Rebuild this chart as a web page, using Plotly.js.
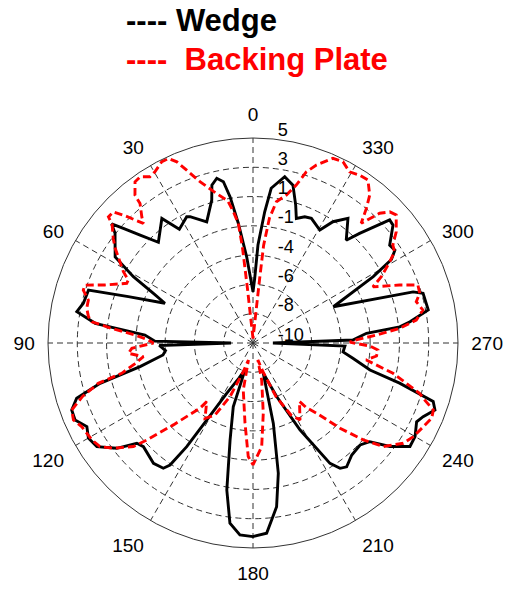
<!DOCTYPE html>
<html>
<head>
<meta charset="utf-8">
<script src="https://cdn.plot.ly/plotly-3.0.1.min.js"></script>
<style>html,body{margin:0;padding:0;background:#fff;}#chart{width:522px;height:590px;}</style>
</head>
<body>
<div id="chart"></div>
<script>
// Angular tick labels (degrees)
const angleTicks = [0, 30, 60, 90, 120, 150, 180, 210, 240, 270, 300, 330];
const angleLabels = ['0', '30', '60', '90', '120', '150', '180', '210', '240', '270', '300', '330'];
// Radial rings (equally spaced) and their printed labels
const ringPos = [0, 1, 2, 3, 4, 5, 6, 7];
const ringLabels = ['-10', '-8', '-6', '-4', '-1', '1', '3', '5'];

// Wedge (black solid) — angle in degrees, radius in ring units
const wedgeTheta = [0, 4.2, 7.0, 8.9, 10.4, 12.4, 14.6, 16.1, 20.9, 26.5, 27.7, 32.9, 36.2, 43.2, 46.3, 48.5, 49.9, 51.5, 58.0, 61.0, 63.5, 65.7, 69.6, 72.2, 76.8, 79.9, 82.9, 85.8, 88.9, 90, 91.5, 95, 97.6, 101.8, 104.8, 107.4, 110.3, 113.4, 116.7, 120, 123.6, 127.7, 130.8, 133.4, 140.4, 144.4, 145.8, 147.4, 149, 152.4, 158, 163.5, 162.8, 166.7, 169.9, 172.7, 176.1, 180,
  184.1, 188.2, 191, 194.2, 198.8, 203.8, 208.4, 212.6, 214.8, 217.1, 221.4, 226.4, 229.8, 232.9, 236.6, 240, 244.3, 246.6, 249.8, 252, 254.7, 257, 261.3, 264.3, 268.1, 270, 271.7, 274.9, 276.3, 277.7, 280.7, 286.3, 287.7, 294.3, 298.9, 301.1, 303.2, 305.6, 310.1, 312, 315.8, 317.8, 322.7, 326.6, 329.4, 334.9, 337.7, 340.8, 342.8, 345.8, 349.2, 353.3, 354.9, 357.1, 358.5, 360];
const wedgeR = [1.75, 2.95, 4.12, 5.05, 5.6, 5.76, 5.57, 5.08, 4.43, 4.82, 4.87, 4.63, 5.27, 4.72, 5.33, 5.91, 6.31, 6.02, 5.55, 4.67, 3.8, 3.3, 4.54, 5.9, 5.95, 6.11, 5.43, 3.7, 3.35, 0.75, 3.2, 3.0, 3.1, 3.94, 5.4, 6.31, 6.6, 6.62, 6.35, 6.49, 6.4, 5.88, 5.24, 5.15, 5.33, 5.26, 5.04, 4.2, 3.07, 1.94, 1.3, 0.95, 2.28, 3.4, 5.1, 6.2, 6.57, 6.61,
  6.51, 5.65, 4.53, 2.83, 1.09, 2.0, 3.37, 4.88, 5.21, 5.3, 5.1, 5.05, 5.22, 5.86, 6.42, 6.39, 6.2, 6.33, 6.62, 6.47, 5.19, 4.1, 3.45, 3.09, 3.14, 0.68, 3.41, 3.89, 5.04, 5.41, 6.09, 6.05, 5.74, 3.01, 4.69, 5.52, 5.79, 5.74, 6.25, 6.28, 5.22, 4.74, 5.35, 4.96, 4.48, 4.7, 4.66, 4.5, 4.93, 5.56, 5.78, 5.32, 4.5, 3.35, 2.2, 1.75];

// Backing Plate (red dashed)
const plateTheta = [0, 5.8, 6.3, 7.0, 8.5, 10, 14.6, 18.2, 21, 22.8, 24.6, 26.7, 29.8, 31.8, 34.2, 36.2, 38.6, 39, 41.4, 42.5, 45.4, 46.8, 48.9, 49.9, 53.2, 55.5, 61.2, 63.2, 64.7, 68.6, 71, 72.7, 75.4, 78.2, 80.9, 82.5, 84.1, 86.1, 88.4, 90, 92.5, 94.7, 97.1, 100, 103, 104.6, 107.4, 110.3, 113.2, 116, 121, 124.1, 127, 130.9, 132.4, 135.8, 140.9, 141.7, 147.5, 152.2, 156.8, 161.3, 165, 168.3, 174.3, 177.6, 180,
  184.8, 188.3, 193.2, 196, 199, 203.2, 207.8, 211.4, 218.5, 219.5, 222.2, 225.6, 228.7, 231.5, 236.3, 239.7, 243.8, 247.2, 249.6, 252, 253.2, 257.8, 261.5, 264, 266.8, 268.5, 270.5, 271.7, 273.7, 275.7, 278, 281, 284.2, 286.6, 289.4, 291.6, 295.1, 297.3, 300.7, 302.8, 305, 307.8, 311.8, 313.8, 315.7, 317.9, 319.9, 321.7, 324.8, 327.6, 330.6, 333.6, 336.6, 340.4, 342.7, 344.7, 347.3, 350.6, 352.5, 353.8, 354.1, 360];
const plateR = [0.15, 1.85, 3.3, 4.12, 4.53, 4.92, 5.35, 5.8, 6.32, 6.71, 6.93, 6.93, 6.74, 6.68, 6.86, 6.82, 6.46, 6.13, 5.74, 5.54, 6.22, 6.54, 6.55, 6.29, 5.96, 5.71, 5.05, 4.77, 4.77, 5.43, 6.07, 6.07, 5.81, 5.8, 5.69, 5.55, 4.85, 4.04, 3.57, 3.4, 4.14, 4.27, 3.77, 4.1, 4.6, 5.46, 6.1, 6.6, 6.67, 6.51, 6.42, 6.31, 5.97, 5.4, 4.91, 3.9, 2.87, 2.55, 3.05, 2.78, 1.99, 1.03, 0.6, 1.64, 2.75, 3.88, 4.16,
  3.55, 2.43, 1.3, 0.6, 1.03, 1.99, 2.78, 3.08, 2.55, 2.85, 3.24, 4.16, 5.01, 5.68, 6.17, 6.34, 6.48, 6.62, 6.57, 6.11, 5.94, 4.89, 3.91, 4.24, 4.27, 4.0, 3.3, 3.53, 4.22, 5.03, 5.63, 5.91, 5.75, 5.94, 5.97, 5.38, 4.52, 4.93, 5.43, 5.75, 5.83, 6.19, 6.56, 6.47, 6.19, 5.51, 6.01, 6.43, 6.81, 6.79, 6.71, 6.91, 6.87, 6.45, 6.12, 5.59, 5.18, 4.89, 4.3, 3.36, 2.2, 0.15];

const legendWedge = '---- Wedge';
const legendPlate = '---- \u00a0Backing Plate';

const FONT = 'Liberation Sans, Arial, Helvetica, sans-serif';

const traces = [
  {
    type: 'scatterpolar', mode: 'lines', name: 'Wedge',
    theta: wedgeTheta, r: wedgeR,
    line: {color: '#000000', width: 2.9},
    showlegend: false, hoverinfo: 'skip'
  },
  {
    type: 'scatterpolar', mode: 'lines', name: 'Backing Plate',
    theta: plateTheta, r: plateR,
    line: {color: '#ff0000', width: 2.9, dash: '8px,4px'},
    showlegend: false, hoverinfo: 'skip'
  }
];

const layout = {
  width: 522, height: 590,
  margin: {l: 48, r: 64, t: 138, b: 42},
  paper_bgcolor: '#ffffff',
  font: {family: FONT, color: '#000000'},
  showlegend: false,
  polar: {
    domain: {x: [0, 1], y: [0, 1]},
    bgcolor: '#ffffff',
    angularaxis: {
      rotation: 90, direction: 'counterclockwise',
      tickmode: 'array', tickvals: angleTicks, ticktext: angleLabels,
      showline: true, linecolor: '#333333', linewidth: 1,
      showgrid: true, gridcolor: '#333333', gridwidth: 1, griddash: '6px,4px',
      ticks: 'outside', ticklen: 9, tickcolor: 'rgba(0,0,0,0)',
      tickfont: {family: FONT, size: 19, color: '#000000'}
    },
    radialaxis: {
      range: [0, 7], angle: 90, tickangle: 90,
      tickmode: 'array', tickvals: ringPos,
      ticktext: ringLabels.map(function (s) { return '<sup>' + s + '</sup>'; }),
      showline: false, ticks: 'outside', ticklen: 19, tickcolor: 'rgba(0,0,0,0)',
      showgrid: true, gridcolor: '#333333', gridwidth: 1, griddash: '6px,4px',
      tickfont: {family: FONT, size: 26, color: '#000000'}
    }
  },
  annotations: [
    {xref: 'paper', yref: 'paper', x: (124 - 48) / 410, y: (548 - 21) / 410,
     xanchor: 'left', yanchor: 'middle', showarrow: false,
     text: '<b>' + legendWedge + '</b>', font: {family: FONT, size: 31, color: '#000000'}},
    {xref: 'paper', yref: 'paper', x: (124 - 48) / 410, y: (548 - 59) / 410,
     xanchor: 'left', yanchor: 'middle', showarrow: false,
     text: '<b>' + legendPlate + '</b>', font: {family: FONT, size: 31, color: '#ff0000'}}
  ]
};

Plotly.newPlot('chart', traces, layout, {staticPlot: true, displayModeBar: false});
</script>
</body>
</html>
